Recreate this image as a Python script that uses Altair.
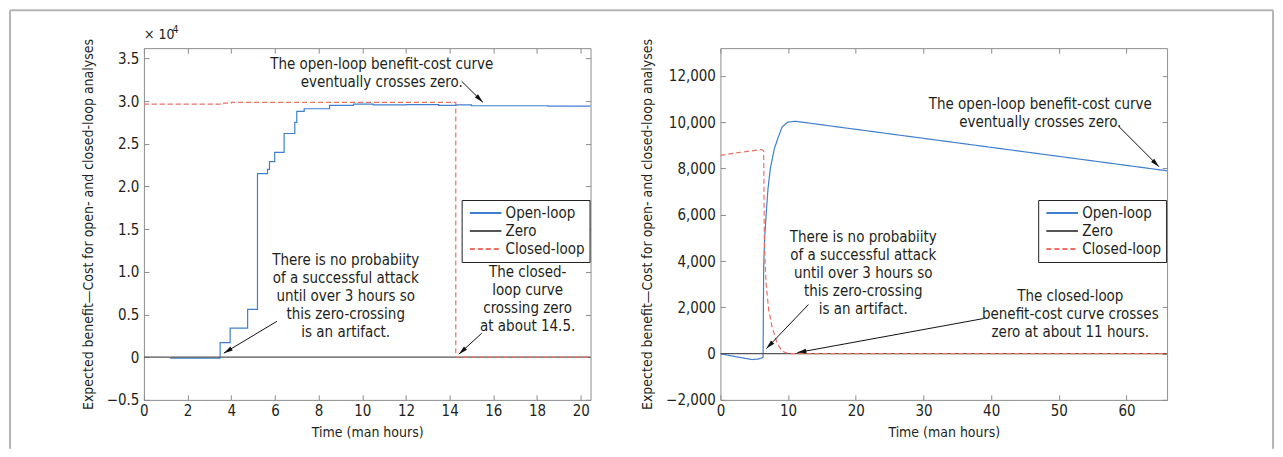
import math
import altair as alt
import pandas as pd

FONT = "Liberation Sans Narrow, Arial Narrow, DejaVu Sans Condensed, sans-serif"
FS = 14
TXT = "#231f20"
BLUE = "#3f7fcf"
RED = "#ef6f62"
ZERO = "#555555"
FRAME = "#8c8c8c"
SERIES = ["Open-loop", "Zero", "Closed-loop"]

# ---------------- Left panel data (values x 10^4) ----------------
left_open_x = [1.2, 3.49, 3.95, 4.75, 5.2, 5.66, 5.75, 5.99, 6.42, 6.91, 7.0, 7.34, 8.5,
               9.6, 10.5, 12.0, 13.5, 14.3, 15.0, 18.5, 20.45]
left_open_y = [-0.01, 0.17, 0.34, 0.56, 2.15, 2.2, 2.29, 2.40, 2.62, 2.75, 2.88, 2.91, 2.95,
               2.965, 2.955, 2.958, 2.95, 2.955, 2.945, 2.94, 2.935]
left_closed_x = [0, 3.6, 4.0, 14.28, 20.45]
left_closed_y = [2.965, 2.975, 2.985, 0.0, 0.0]
left_zero_x = [0, 20.45]
left_zero_y = [0, 0]
left_xticks = [0, 2, 4, 6, 8, 10, 12, 14, 16, 18, 20]
left_yticks = [-0.5, 0, 0.5, 1.0, 1.5, 2.0, 2.5, 3.0, 3.5]

# ---------------- Right panel data ----------------
right_open_x = [0, 2, 4.67, 5.5, 6.15, 6.3, 6.39, 6.54, 6.8, 7.03, 7.37, 7.96, 8.46, 9.1,
                9.93, 11.06, 66]
right_open_y = [0, -120, -258, -240, -187, -150, 3760, 5050, 6200, 7130, 7990, 8850, 9280,
                9790, 10000, 10040, 7900]
right_closed_x = [0, 3, 5.9, 6.3, 6.39, 6.49, 6.74, 7.13, 7.62, 8.36, 9.1, 10.08, 66]
right_closed_y = [8565, 8700, 8810, 8790, 8750, 4760, 3040, 1890, 1180, 460, 100, 0, 0]
right_zero_x = [0, 66]
right_zero_y = [0, 0]
right_xticks = [0, 10, 20, 30, 40, 50, 60]
right_yticks = [-2000, 0, 2000, 4000, 6000, 8000, 10000, 12000]

# ---------------- Annotations ----------------
TXT_OPEN = "The open-loop benefit-cost curve\neventually crosses zero."
TXT_ART = "There is no probabiity\nof a successful attack\nuntil over 3 hours so\nthis zero-crossing\nis an artifact."
left_notes = [
    (10.89, 3.52, TXT_OPEN),
    (9.24, 1.218, TXT_ART),
    (17.57, 1.081, "The closed-\nloop curve\ncrossing zero\nat about 14.5."),
]
left_arrows = [
    (14.55, 3.232, 15.52, 2.986),
    (6.09, 0.42, 3.66, 0.047),
    (15.47, 0.281, 14.42, 0.035),
]
right_notes = [
    (47.27, 11089, TXT_OPEN),
    (21.1, 5343, TXT_ART),
    (51.7, 2808, "The closed-loop\nbenefit-cost curve crosses\nzero at about 11 hours."),
]
right_arrows = [
    (58.9, 9806, 64.8, 8078),
    (13.0, 2117, 6.79, 216),
    (38.85, 1512, 11.37, 43),
]

W, H = 447, 352


def series_df(ox, oy, zx, zy, cx, cy):
    rows = []
    for name, xs, ys in [("Open-loop", ox, oy), ("Zero", zx, zy), ("Closed-loop", cx, cy)]:
        for a, b in zip(xs, ys):
            rows.append({"t": a, "v": b, "series": name})
    return pd.DataFrame(rows)


def panel(df, xdom, ydom, xticks, yticks, ylab_expr, interp, notes, arrows, exponent):
    xs = alt.Scale(domain=xdom, nice=False, zero=False)
    ys = alt.Scale(domain=ydom, nice=False, zero=False)
    ppx = W / (xdom[1] - xdom[0])
    ppy = H / (ydom[1] - ydom[0])

    ax_b = alt.Axis(orient="bottom", values=xticks, offset=-5, tickSize=5, domain=False,
                    labelPadding=4, title="Time (man hours)", titlePadding=7, grid=False,
                    labelFlush=False)
    ax_t = alt.Axis(orient="top", values=xticks, offset=-5, tickSize=5, domain=False,
                    labels=False, title=None, grid=False)
    ax_l = alt.Axis(orient="left", values=yticks, offset=-5, tickSize=5, domain=False,
                    labelPadding=5, labelExpr=ylab_expr,
                    title="Expected benefit\u2014Cost for open- and closed-loop analyses",
                    titlePadding=11, grid=False, labelFlush=False)
    ax_r = alt.Axis(orient="right", values=yticks, offset=-5, tickSize=5, domain=False,
                    labels=False, title=None, grid=False)

    leg = alt.Legend(orient="none", legendX=318, legendY=152, title=None,
                     strokeColor=TXT, fillColor="white", padding=4,
                     symbolType="stroke", symbolSize=1000, symbolStrokeWidth=2,
                     labelFont=FONT, labelFontSize=FS + 1, labelColor=TXT,
                     labelOffset=3, rowPadding=0, symbolOffset=3, clipHeight=18)

    line = alt.Chart(df).mark_line(interpolate=interp, strokeWidth=1.2, clip=True).encode(
        x=alt.X("t:Q", scale=xs, axis=ax_b),
        y=alt.Y("v:Q", scale=ys, axis=ax_l),
        color=alt.Color("series:N", scale=alt.Scale(domain=SERIES, range=[BLUE, ZERO, RED]),
                        legend=leg),
        strokeDash=alt.StrokeDash("series:N",
                                  scale=alt.Scale(domain=SERIES, range=[[1, 0], [1, 0], [5, 3]]),
                                  legend=leg),
    )
    ticks = alt.Chart(df).mark_point(opacity=0).encode(
        x=alt.X("t:Q", scale=xs, axis=ax_t),
        y=alt.Y("v:Q", scale=ys, axis=ax_r),
    )

    ndf = pd.DataFrame(notes, columns=["x", "y", "label"])
    txt = alt.Chart(ndf).mark_text(align="center", baseline="top", lineBreak="\n", lineHeight=18,
                                   font=FONT, fontSize=FS + 1, color=TXT).encode(
        x=alt.X("x:Q", scale=xs, axis=None), y=alt.Y("y:Q", scale=ys, axis=None),
        text="label:N")

    arows = []
    for x1, y1, x2, y2 in arrows:
        dx = (x2 - x1) * ppx
        dy = -(y2 - y1) * ppy
        ang = math.degrees(math.atan2(dx, -dy)) % 360
        arows.append({"x1": x1, "y1": y1, "x2": x2, "y2": y2, "ang": ang})
    adf = pd.DataFrame(arows)
    shaft = alt.Chart(adf).mark_rule(color="#111111", strokeWidth=1).encode(
        x=alt.X("x1:Q", scale=xs, axis=None), y=alt.Y("y1:Q", scale=ys, axis=None),
        x2="x2:Q", y2="y2:Q")
    head = alt.Chart(adf).mark_point(shape="M0,0L0.5,2L-0.5,2Z", filled=True, size=81,
                                     color="#111111", opacity=1).encode(
        x=alt.X("x2:Q", scale=xs, axis=None), y=alt.Y("y2:Q", scale=ys, axis=None),
        angle=alt.Angle("ang:Q", scale=None))

    layers = [line, ticks, txt, shaft, head]
    one = pd.DataFrame({"d": [0]})
    if exponent:
        layers.append(alt.Chart(one).mark_text(text="\u00d7 10", align="left", baseline="middle",
                                               font=FONT, fontSize=FS, color=TXT).encode(
            x=alt.value(0), y=alt.value(-13)))
        layers.append(alt.Chart(one).mark_text(text="4", align="left", baseline="middle",
                                               font=FONT, fontSize=10, color=TXT).encode(
            x=alt.value(29), y=alt.value(-18)))
        bcol = "#b5b5b5"
        layers.append(alt.Chart(one).mark_rule(color=bcol, strokeWidth=2).encode(
            x=alt.value(-134), y=alt.value(-38), y2=alt.value(401)))
        layers.append(alt.Chart(one).mark_rule(color=bcol, strokeWidth=2).encode(
            x=alt.value(-134), x2=alt.value(1130), y=alt.value(-38)))
        layers.append(alt.Chart(one).mark_rule(color=bcol, strokeWidth=2).encode(
            x=alt.value(1130), y=alt.value(-38), y2=alt.value(401)))

    return alt.layer(*layers).resolve_axis(x="independent", y="independent").properties(
        width=W, height=H)


left_df = series_df(left_open_x, left_open_y, left_zero_x, left_zero_y, left_closed_x, left_closed_y)
right_df = series_df(right_open_x, right_open_y, right_zero_x, right_zero_y, right_closed_x,
                     right_closed_y)

left = panel(left_df, [0, 20.45], [-0.5, 3.62], left_xticks, left_yticks,
             "datum.value == 0 ? '0' : format(datum.value, '.1f')", "step-after",
             left_notes, left_arrows, True)
right = panel(right_df, [0, 66], [-2000, 13200], right_xticks, right_yticks,
              "format(datum.value, ',')", "linear", right_notes, right_arrows, False)

chart = alt.hconcat(left, right, spacing=130, bounds="flush").resolve_scale(
    color="independent", strokeDash="independent").resolve_legend(
    color="independent", strokeDash="independent").properties(
    padding=0, background="white").configure_view(stroke=FRAME, strokeWidth=1).configure_axis(
    labelFont=FONT, labelFontSize=FS + 1, labelColor=TXT, titleFont=FONT, titleFontSize=FS,
    titleFontWeight="normal", titleColor=TXT, tickColor=FRAME, tickWidth=1)

chart.save("out.html", embed_options={"renderer": "svg", "actions": False})
